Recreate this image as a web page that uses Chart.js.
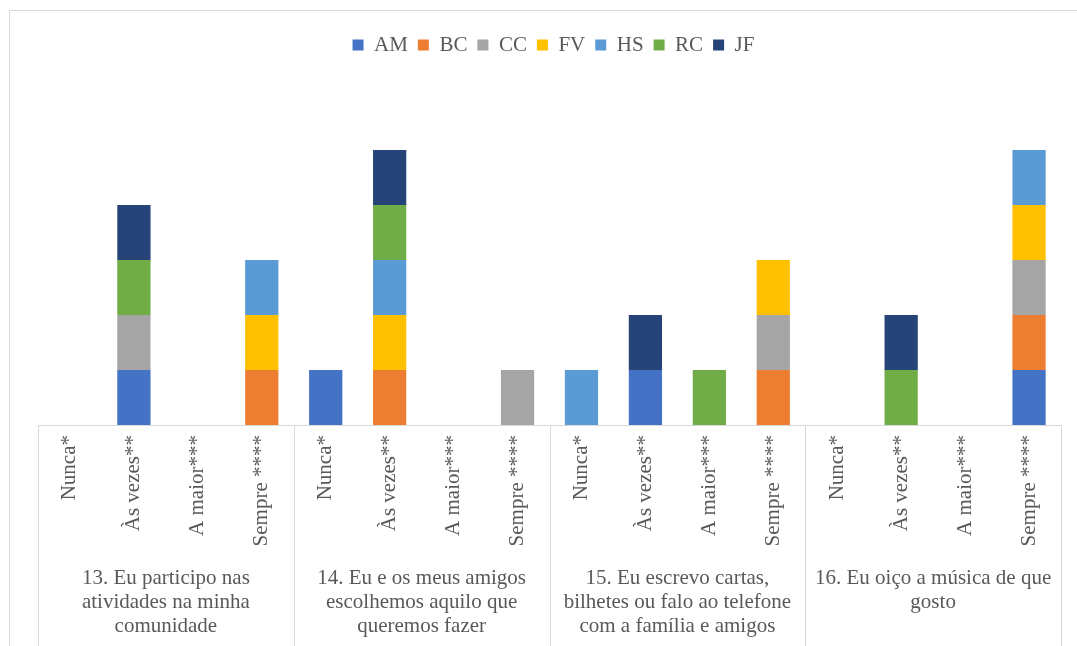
<!DOCTYPE html>
<html>
<head>
<meta charset="utf-8">
<script src="https://cdn.jsdelivr.net/npm/chart.js@4/dist/chart.umd.min.js"></script>
<style>
  html, body { margin: 0; padding: 0; background: #ffffff; overflow: hidden; }
  #wrap { position: relative; width: 1077px; height: 646px; overflow: hidden; }
  canvas { display: block; }
</style>
</head>
<body>
<div id="wrap"><canvas id="c" width="1077" height="700"></canvas></div>
<script>
// ---- Data ----
const answerLabels = [
  'Nunca*', 'Às vezes**', 'A maior***', 'Sempre ****',
  'Nunca*', 'Às vezes**', 'A maior***', 'Sempre ****',
  'Nunca*', 'Às vezes**', 'A maior***', 'Sempre ****',
  'Nunca*', 'Às vezes**', 'A maior***', 'Sempre ****'
];
const questionLabels = [
  ['13. Eu participo nas', 'atividades na minha', 'comunidade'],
  ['14. Eu e os meus amigos', 'escolhemos aquilo que', 'queremos fazer'],
  ['15. Eu escrevo cartas,', 'bilhetes ou falo ao telefone', 'com a família e amigos'],
  ['16. Eu oiço a música de que', 'gosto']
];
const seriesNames = ['AM', 'BC', 'CC', 'FV', 'HS', 'RC', 'JF'];
const AM = [0, 1, 0, 0,  1, 0, 0, 0,  0, 1, 0, 0,  0, 0, 0, 1];
const BC = [0, 0, 0, 1,  0, 1, 0, 0,  0, 0, 0, 1,  0, 0, 0, 1];
const CC = [0, 1, 0, 0,  0, 0, 0, 1,  0, 0, 0, 1,  0, 0, 0, 1];
const FV = [0, 0, 0, 1,  0, 1, 0, 0,  0, 0, 0, 1,  0, 0, 0, 1];
const HS = [0, 0, 0, 1,  0, 1, 0, 0,  1, 0, 0, 0,  0, 0, 0, 1];
const RC = [0, 1, 0, 0,  0, 1, 0, 0,  0, 0, 1, 0,  0, 1, 0, 0];
const JF = [0, 1, 0, 0,  0, 1, 0, 0,  0, 1, 0, 0,  0, 1, 0, 0];
const seriesValues = [AM, BC, CC, FV, HS, RC, JF];
const seriesColors = ['#4472C4', '#ED7D31', '#A5A5A5', '#FFC000', '#5B9BD5', '#70AD47', '#264478'];
const yMax = 6;

// ---- Styling ----
const FONT = "'Liberation Serif', 'Times New Roman', serif";
const TEXT = '#595959';
const LINE = '#D9D9D9';

const datasets = seriesNames.map((name, i) => ({
  label: name,
  data: seriesValues[i],
  backgroundColor: seriesColors[i],
  borderWidth: 0,
  barPercentage: 0.52,
  categoryPercentage: 1.0
}));

const framePlugin = {
  id: 'frame',
  beforeInit(chart) {
    const lg = chart.legend;
    if (lg && !lg._patched) {
      const orig = lg.fit;
      lg.fit = function () {
        orig.call(this);
        this.height = 70.5;
      };
      lg._patched = true;
    }
  },
  beforeDraw(chart) {
    const ctx = chart.ctx;
    ctx.save();
    ctx.fillStyle = '#ffffff';
    ctx.fillRect(0, 0, chart.width, chart.height);
    ctx.strokeStyle = LINE;
    ctx.lineWidth = 1;
    ctx.strokeRect(9.5, 10.5, 1200, 1000);
    ctx.restore();
  },
  afterDraw(chart) {
    const ctx = chart.ctx;
    const xs = chart.scales.x;
    const x2 = chart.scales.x2;
    const groups = questionLabels.length;
    ctx.save();
    ctx.strokeStyle = LINE;
    ctx.lineWidth = 1;
    ctx.beginPath();
    for (let g = 0; g <= groups; g++) {
      const px = Math.round(xs.left + g * (xs.right - xs.left) / groups) + 0.5;
      ctx.moveTo(px, xs.top);
      ctx.lineTo(px, x2.bottom);
    }
    ctx.moveTo(xs.left, Math.round(xs.top) + 0.5);
    ctx.lineTo(xs.right, Math.round(xs.top) + 0.5);
    ctx.stroke();
    ctx.restore();
  }
};

new Chart(document.getElementById('c'), {
  type: 'bar',
  data: { labels: answerLabels, datasets },
  plugins: [framePlugin],
  options: {
    responsive: false,
    animation: false,
    devicePixelRatio: 1,
    layout: { padding: { left: 38, right: 8, top: 24.5, bottom: 6 } },
    plugins: {
      tooltip: { enabled: false },
      legend: {
        position: 'top',
        labels: {
          boxWidth: 11,
          boxHeight: 11,
          padding: 10,
          color: TEXT,
          font: { family: FONT, size: 21 }
        }
      }
    },
    scales: {
      x: {
        stacked: true,
        weight: 0,
        grid: { display: false, drawTicks: false },
        border: { display: false },
        ticks: {
          autoSkip: false,
          minRotation: 90,
          maxRotation: 90,
          padding: 10,
          color: TEXT,
          font: { family: FONT, size: 21 }
        },
        afterFit(scale) { scale.height = 130; }
      },
      x2: {
        type: 'category',
        labels: questionLabels,
        position: 'bottom',
        offset: true,
        weight: 1,
        grid: { display: false, drawTicks: false },
        border: { display: false },
        ticks: {
          autoSkip: false,
          minRotation: 0,
          maxRotation: 0,
          padding: 11,
          color: TEXT,
          font: { family: FONT, size: 21, lineHeight: '24px' }
        },
        afterFit(scale) { scale.height = 139; }
      },
      y: {
        stacked: true,
        position: 'right',
        min: 0,
        max: yMax,
        display: true,
        grid: { display: false, drawTicks: false },
        border: { display: false },
        ticks: { display: false },
        afterFit(scale) { scale.width = 8; }
      }
    }
  }
});
</script>
</body>
</html>
